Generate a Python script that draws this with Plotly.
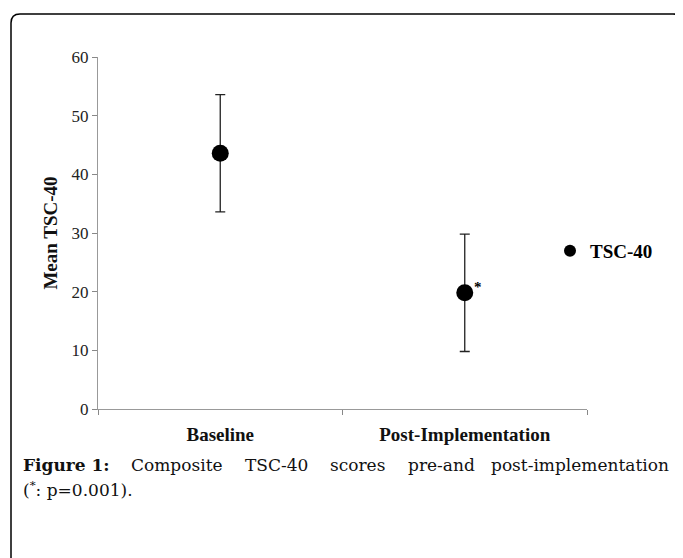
import plotly.graph_objects as go

categories = ["Baseline", "Post-Implementation"]
mean_tsc40 = [43.6, 19.8]
error_tsc40 = [10.0, 10.0]
y_ticks = [0, 10, 20, 30, 40, 50, 60]
series_name = "TSC-40"

W, H = 683, 558
OFF = 8  # page body margin
PX0, PX1, PY0, PY1 = 98, 587, 57, 409
L, T = PX0 - OFF, PY0 - OFF
PW, PH = PX1 - PX0, PY1 - PY0
R, B = W - L - PW, H - T - PH

def px(x):
    return (x - PX0) / PW

def py(y):
    return 1 - (y - PY0) / PH

SERIF = "Liberation Serif"
CAP = "DejaVu Serif"
CAP_Y1, CAP_Y2 = 465, 489

fig = go.Figure()
fig.add_trace(go.Scatter(
    x=categories, y=mean_tsc40, mode="markers", name="<b>" + series_name + "</b>",
    marker=dict(size=17, color="#000000"),
    error_y=dict(type="data", array=error_tsc40, visible=True,
                 color="#222222", thickness=1.3, width=5),
))

annotations = []
annotations.append(dict(x=categories[1], y=mean_tsc40[1], xref="x", yref="y",
                        text="<b>*</b>", showarrow=False, xshift=13, yshift=6,
                        font=dict(family=SERIF, size=15, color="#000")))

line1 = [("<b>Figure 1:</b>", 21, "left"), ("Composite", 129, "left"),
         ("TSC-40", 243, "left"), ("scores", 328, "left"),
         ("pre-and", 406, "left"), ("post-implementation", 671, "right")]
for txt, xp, anc in line1:
    annotations.append(dict(x=px(xp), y=py(CAP_Y1), xref="paper", yref="paper",
                            xanchor=anc, yanchor="middle", text=txt,
                            showarrow=False,
                            font=dict(family=CAP, size=17, color="#111")))
annotations.append(dict(x=px(21), y=py(CAP_Y2), xref="paper", yref="paper",
                        xanchor="left", yanchor="middle",
                        text="(<sup>*</sup>: p=0.001).", showarrow=False,
                        font=dict(family=CAP, size=17, color="#111")))

x0, y0, x1, y1, r = 11, 14, 682, 580, 9
def P(x, y):
    return f"{px(x):.5f},{py(y):.5f}"
path = (f"M {P(x0, y1)} L {P(x0, y0 + r)} Q {P(x0, y0)} {P(x0 + r, y0)} "
        f"L {P(x1 - r, y0)} Q {P(x1, y0)} {P(x1, y0 + r)} L {P(x1, y1)}")
shapes = [dict(type="path", xref="paper", yref="paper", path=path,
               line=dict(color="#000", width=1.5), fillcolor="rgba(0,0,0,0)",
               layer="below")]

fig.update_layout(
    width=W, height=H,
    margin=dict(l=L, r=R, t=T, b=B),
    paper_bgcolor="white", plot_bgcolor="white",
    font=dict(family=SERIF, color="#222"),
    showlegend=True,
    legend=dict(x=px(550), y=py(251), xanchor="left", yanchor="middle",
                font=dict(family=SERIF, size=19, color="#000"),
                itemsizing="constant", bgcolor="rgba(0,0,0,0)"),
    annotations=annotations,
    shapes=shapes,
)

fig.update_xaxes(
    type="category", range=[-0.5, 1.5], tickson="boundaries",
    ticks="outside", ticklen=5, tickcolor="#888",
    showline=True, linecolor="#999", linewidth=1, showgrid=False,
    tickfont=dict(family=SERIF, size=19, color="#111"),
    tickprefix="<b>", ticksuffix="</b>", ticklabelstandoff=8,
)
fig.update_yaxes(
    range=[0, 60], tickvals=y_ticks, ticks="outside", ticklen=5,
    tickcolor="#888", showline=True, linecolor="#999", linewidth=1,
    showgrid=False, zeroline=False,
    tickfont=dict(family=SERIF, size=17, color="#222"),
    title=dict(text="<b>Mean TSC-40</b>", standoff=8,
               font=dict(family=SERIF, size=19, color="#111")),
)

fig.write_html("out.html")
